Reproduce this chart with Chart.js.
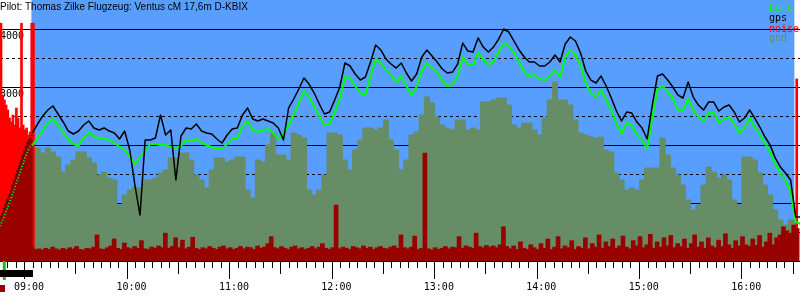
<!DOCTYPE html>
<html>
<head>
<meta charset="utf-8">
<script src="https://cdn.jsdelivr.net/npm/chart.js@4.4.1/dist/chart.umd.min.js"></script>
<style>
  body { margin: 0; background: #fff; }
</style>
</head>
<body>
<canvas id="flightChart" width="800" height="300"></canvas>
<script>
// all times are minutes after midnight
const preStart = 523;      // 08:43, 1 min samples before takeoff
const flightStart = 542;   // 09:02, 3 min samples
const noiseStart = 543;    // 2 min samples
const takeoff = 541.4;
const landing = 988.2;
const titleText = "Pilot: Thomas Zilke Flugzeug: Ventus cM 17,6m D-KBIX";

const preGps = [707, 776, 845, 914, 1000, 1069, 1155, 1224, 1310, 1397, 1483, 1569, 1655, 1741, 1828, 1914, 2000, 2069, 2121];
const preBaro = [603, 672, 741, 810, 896, 965, 1052, 1121, 1207, 1293, 1379, 1465, 1552, 1638, 1724, 1810, 1879, 1931, 1983];
const preNoise = [638, 707, 759, 828, 914, 983, 1069, 1138, 1224, 1310, 1397, 1483, 1569, 1655, 1741, 1828, 1914, 1983, 2052, 2100];
const preEngine = [4100, 2862, 2776, 2690, 2603, 2465, 2397, 2517, 2345, 2638, 2465, 2293, 4100, 2345, 2259, 2293, 2172, 2224, 4100, 4100];
const lateEngineTimes = [989];
const lateEngine = [3140];

const gps = [
  2207, 2362, 2500, 2603, 2672, 2534, 2397, 2241, 2190, 2241,
  2345, 2414, 2293, 2259, 2293, 2241, 2207, 2103, 2241, 1914,
  1310, 793, 2086, 2086, 2121, 2517, 2172, 2259, 1397, 2155,
  2293, 2276, 2362, 2241, 2207, 2190, 2103, 2034, 2172, 2276,
  2293, 2517, 2638, 2448, 2414, 2448, 2414, 2379, 2293, 2086,
  2638, 2793, 2965, 3155, 3051, 2896, 2707, 2534, 2569, 2776,
  3000, 3414, 3362, 3224, 3121, 3172, 3431, 3724, 3638, 3483,
  3396, 3327, 3414, 3241, 3103, 3224, 3517, 3638, 3534, 3431,
  3310, 3241, 3258, 3396, 3758, 3620, 3603, 3845, 3689, 3603,
  3689, 3827, 4000, 3948, 3793, 3638, 3517, 3431, 3431, 3362,
  3362, 3431, 3551, 3431, 3741, 3862, 3793, 3586, 3276, 3120,
  3069, 3189, 3017, 2810, 2586, 2414, 2569, 2551, 2396, 2293,
  2103, 2689, 3189, 3224, 3120, 3000, 2862, 2810, 3086, 2827,
  2689, 2603, 2741, 2741, 2586, 2655, 2689, 2569, 2396, 2465,
  2603, 2465, 2310, 2138, 2000, 1776, 1621, 1517, 1396, 759,
  759
];
const baro = [
  2000, 2121, 2259, 2379, 2448, 2345, 2207, 2103, 2017, 1983,
  2121, 2224, 2138, 2121, 2121, 2086, 2034, 1966, 1914, 1793,
  1672, 1793, 1896, 2017, 2017, 2000, 2000, 1966, 1948, 1983,
  2086, 2069, 2103, 2034, 2000, 1966, 1931, 1931, 2017, 2103,
  2121, 2327, 2414, 2259, 2224, 2259, 2276, 2207, 2103, 2190,
  2345, 2517, 2724, 2931, 2827, 2655, 2500, 2345, 2362, 2569,
  2793, 3172, 3155, 3017, 2896, 2862, 3189, 3483, 3414, 3293,
  3207, 3086, 3189, 3017, 2862, 3000, 3276, 3414, 3327, 3258,
  3103, 3017, 3034, 3189, 3517, 3396, 3379, 3603, 3465, 3379,
  3448, 3603, 3758, 3707, 3586, 3431, 3258, 3189, 3207, 3138,
  3120, 3189, 3293, 3172, 3517, 3638, 3551, 3379, 3069, 2896,
  2827, 2948, 2776, 2603, 2362, 2207, 2379, 2345, 2172, 2086,
  1931, 2465, 2965, 3017, 2914, 2810, 2603, 2603, 2793, 2603,
  2483, 2414, 2552, 2569, 2379, 2448, 2483, 2362, 2207, 2293,
  2465, 2310, 2172, 2034, 1879, 1672, 1517, 1396, 1190, 672,
  638
];
const gnd = [
  1948, 1948, 1862, 1948, 1879, 1793, 1534, 1655, 1741, 1879,
  1879, 1776, 1690, 1483, 1534, 1431, 1396, 965, 1138, 1224,
  1276, 1259, 1396, 1396, 1431, 1517, 1569, 1776, 1776, 1862,
  1862, 1741, 1483, 1396, 1259, 1569, 1776, 1776, 1707, 1741,
  1793, 1793, 1224, 1086, 1741, 1707, 2000, 2207, 1828, 1828,
  1741, 2207, 2172, 2121, 1224, 1138, 1224, 1483, 2207, 2207,
  2172, 1741, 1569, 1914, 2086, 2293, 2293, 2259, 2293, 2431,
  2086, 1914, 1569, 1741, 2172, 2224, 2517, 2828, 2724, 2483,
  2345, 2293, 2259, 2431, 2431, 2259, 2293, 2259, 2741, 2741,
  2776, 2810, 2810, 2690, 2345, 2293, 2379, 2379, 2259, 2172,
  2465, 2776, 3086, 2776, 2776, 2690, 2431, 2207, 2172, 2138,
  2121, 2138, 1914, 1879, 1517, 1396, 1224, 1259, 1224, 1396,
  1603, 1603, 1603, 2121, 1828, 1603, 1483, 1310, 1052, 879,
  965, 1310, 1621, 1534, 1431, 1483, 1396, 1052, 965, 1793,
  1793, 1741, 1517, 1310, 1138, 879, 707, 621, 707, 707,
  null
];
const noise = [
  230, 200, 210, 190, 220, 200, 240, 210, 190, 220,
  200, 230, 210, 250, 200, 190, 220, 210, 240, 450,
  210, 200, 230, 260, 380, 220, 200, 310, 230, 210,
  250, 220, 350, 210, 200, 240, 220, 260, 230, 480,
  220, 250, 400, 230, 360, 210, 240, 410, 220, 200,
  230, 210, 250, 220, 200, 240, 260, 210, 230, 200,
  220, 250, 210, 240, 230, 200, 260, 220, 240, 300,
  420, 230, 210, 250, 220, 200, 240, 260, 210, 230,
  200, 220, 250, 210, 240, 300, 220, 200, 230, 965,
  210, 240, 220, 200, 250, 230, 210, 260, 220, 240,
  200, 230, 250, 220, 210, 240, 260, 220, 450, 230,
  210, 240, 430, 200, 220, 1860, 210, 190, 230, 200,
  220, 250, 210, 240, 230, 420, 220, 260, 240, 220,
  480, 250, 230, 270, 240, 260, 230, 280, 590, 250,
  210, 260, 200, 330, 220, 200, 280, 230, 200, 300,
  220, 380, 200, 240, 420, 210, 260, 230, 350, 200,
  250, 220, 400, 210, 300, 240, 450, 220, 330, 250,
  380, 220, 260, 430, 240, 210, 350, 260, 420, 230,
  280, 460, 220, 330, 240, 400, 260, 440, 230, 300,
  250, 380, 220, 300, 450, 240, 330, 220, 400, 260,
  230, 360, 250, 470, 280, 220, 350, 260, 420, 280,
  250, 380, 270, 440, 240, 330, 480, 280, 400, 450,
  590, 520, 480, 620, 560
];

const hourLabels = ["09:00", "10:00", "11:00", "12:00", "13:00", "14:00", "15:00", "16:00"];
const altLines = [1000, 2000, 3000, 4000];
const altHalfLines = [500, 1500, 2500, 3500];
const legendItems = [["baro", "#00ff00"], ["gps", "#000000"], ["noise", "#ff0000"], ["gnd", "#668d66"]];

// engine run marks under the time axis
const engineOn = 523;
const engineOff = 542.3;
const startMark = 525.5;

function series(start, step, values) {
  return values.map((v, i) => ({ x: start + i * step, y: v }));
}

const gpsPts = series(preStart, 1, preGps).concat(series(flightStart, 3, gps));
const baroPts = series(preStart, 1, preBaro).concat(series(flightStart, 3, baro));
const gndPts = series(flightStart, 3, gnd);
const noisePts = series(preStart, 1, preNoise).concat(series(noiseStart, 2, noise));
const enginePts = series(preStart, 1, preEngine).concat(lateEngineTimes.map((t, i) => ({ x: t, y: lateEngine[i] })));

const preDots = (ctx) => (ctx.p1.parsed.x <= flightStart ? [1, 2] : undefined);
const noPad = (axis) => { axis.paddingTop = 0; axis.paddingBottom = 0; };

const backdrop = {
  id: "backdrop",
  beforeDraw(chart) {
    const { ctx, chartArea, scales } = chart;
    const left = scales.x.getPixelForValue(takeoff);
    const right = scales.x.getPixelForValue(landing);
    ctx.save();
    ctx.fillStyle = "#589eff";
    ctx.fillRect(left, chartArea.top, right - left, chartArea.bottom - chartArea.top);
    ctx.restore();
  },
};

const overlay = {
  id: "overlay",
  afterDraw(chart) {
    const { ctx, chartArea, scales } = chart;
    ctx.save();
    ctx.textBaseline = "alphabetic";
    ctx.fillStyle = "#000";
    ctx.font = '10px "Liberation Sans"';
    ctx.fillText(titleText, 0, 10);

    ctx.font = '10px "DejaVu Sans Mono"';
    const rows = [11, 21, 32, 41];
    legendItems.forEach(([label, color], i) => {
      ctx.fillStyle = color;
      ctx.fillText(label, chartArea.right - 31, rows[i]);
    });

    const x0 = scales.x.getPixelForValue(engineOn);
    const x1 = scales.x.getPixelForValue(engineOff);
    const xm = scales.x.getPixelForValue(startMark);
    const base = chartArea.bottom;
    ctx.fillStyle = "#00cc00";
    ctx.fillRect(xm - 1.5, base, 3, 19);
    ctx.fillStyle = "#000";
    ctx.fillRect(x0, base + 9, x1 - x0, 7);
    ctx.fillStyle = "#990000";
    ctx.fillRect(x0, base + 24, 5, 7);
    ctx.restore();
  },
};

Chart.defaults.font.family = "DejaVu Sans Mono";

new Chart(document.getElementById("flightChart"), {
  type: "line",
  data: {
    datasets: [
      {
        label: "gps",
        data: gpsPts,
        borderColor: "#000000",
        borderWidth: 1.5,
        borderJoinStyle: "round",
        pointRadius: 0,
        order: 1,
        segment: { borderDash: preDots },
      },
      {
        label: "baro",
        data: baroPts,
        borderColor: "#00ff00",
        borderWidth: 2,
        borderJoinStyle: "round",
        pointRadius: 0,
        order: 2,
        segment: { borderDash: preDots },
      },
      {
        type: "bar",
        label: "noise",
        data: noisePts,
        backgroundColor: "#990000",
        barThickness: 4,
        order: 3,
      },
      {
        type: "bar",
        label: "engine",
        data: enginePts,
        xAxisID: "x2",
        backgroundColor: "#ff0000",
        barThickness: 2,
        order: 4,
      },
      {
        label: "gnd",
        data: gndPts,
        borderColor: "#668d66",
        backgroundColor: "#668d66",
        borderWidth: 1,
        fill: "origin",
        stepped: "middle",
        pointRadius: 0,
        order: 5,
      },
    ],
  },
  options: {
    responsive: false,
    animation: false,
    layout: { padding: { left: 0, right: 0, top: 0, bottom: 5 } },
    plugins: {
      legend: { display: false },
      tooltip: { enabled: false },
    },
    scales: {
      x: {
        type: "linear",
        min: 523,
        max: 991.5,
        offset: false,
        afterBuildTicks: (axis) => {
          const ticks = [];
          for (let v = 525; v <= 990; v += 5) ticks.push({ value: v });
          axis.ticks = ticks;
        },
        grid: {
          drawOnChartArea: false,
          drawTicks: true,
          tickLength: 18,
          tickColor: "#000",
          tickWidth: 1,
          tickBorderDash: (ctx) => {
            const v = ctx.tick ? ctx.tick.value : 0;
            if (v % 60 === 0) return [];
            if (v % 30 === 0) return [12, 40];
            return [6, 40];
          },
        },
        border: { display: true, color: "#000", width: 1 },
        ticks: {
          autoSkip: false,
          maxRotation: 0,
          padding: 2,
          color: "#000",
          font: { size: 10 },
          callback: (v) => (v % 60 === 0 ? hourLabels[(v - 540) / 60] || "" : ""),
        },
      },
      x2: {
        type: "linear",
        min: 523,
        max: 991.5,
        offset: false,
        display: false,
      },
      y: {
        min: 0,
        max: 4500,
        position: "left",
        z: 1,
        afterFit: noPad,
        afterBuildTicks: (axis) => {
          axis.ticks = altLines.map((v) => ({ value: v }));
        },
        grid: { color: "#000", lineWidth: 1, drawTicks: false },
        border: { display: false },
        ticks: {
          mirror: true,
          padding: 0,
          labelOffset: 7,
          color: "#000",
          font: { size: 10 },
          callback: (v) => String(v),
        },
      },
      y2: {
        min: 0,
        max: 4500,
        position: "left",
        z: 1,
        afterFit: noPad,
        afterBuildTicks: (axis) => {
          axis.ticks = altHalfLines.map((v) => ({ value: v }));
        },
        grid: { color: "#000", lineWidth: 1, drawTicks: false },
        border: { display: false, dash: [3, 3] },
        ticks: { display: false },
      },
    },
  },
  plugins: [backdrop, overlay],
});
</script>
</body>
</html>
